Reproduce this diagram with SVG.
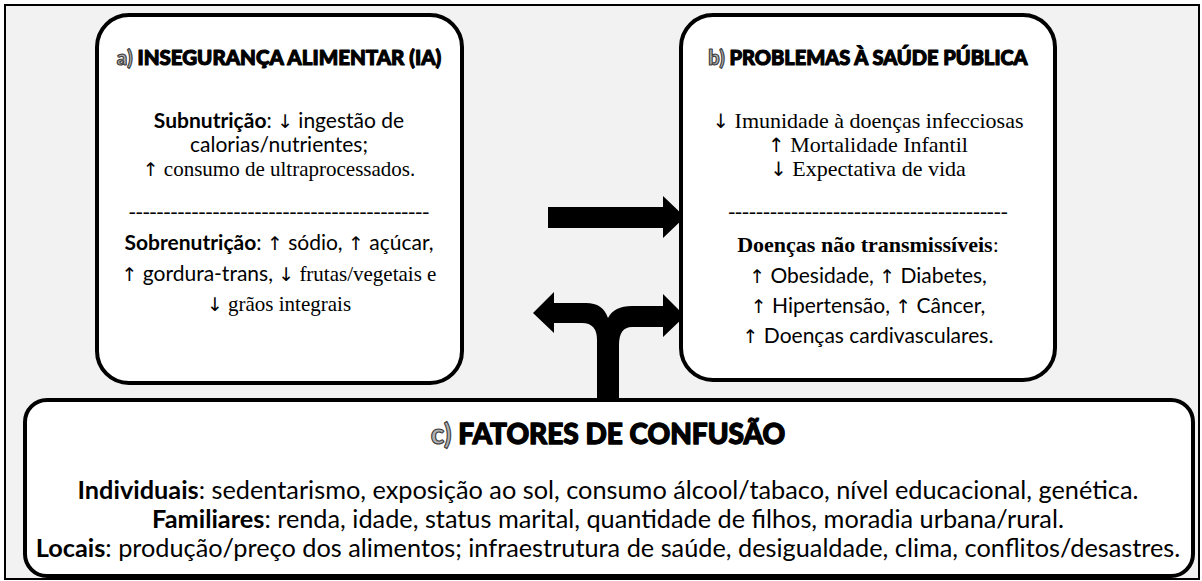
<svg xmlns="http://www.w3.org/2000/svg" width="1202" height="581" viewBox="0 0 1202 581">
<style>
.frame{fill:#f2f2f2;stroke:#000;stroke-width:2}
.box{fill:#fff;stroke:#000;stroke-width:4}
.ttl{font-family:Lato,"Liberation Sans",sans-serif;font-weight:900;fill:#000;stroke:#000;stroke-width:1.1;stroke-linejoin:round;text-anchor:middle}
.t1{font-size:20.5px}
.t2{font-size:20px}
.t3{font-size:28px;stroke-width:1.3}
.lt{fill:#b0b0b0;stroke:#3a3a3a;stroke-width:1.1}
.cal{font-family:Lato,"Liberation Sans",sans-serif;font-size:21px;fill:#000}
.tim{font-family:"Liberation Serif","DejaVu Serif",serif;font-size:21px;fill:#000}
.tb{font-size:22px}
.cc{font-size:25.3px}
.b{font-weight:bold}
.ar{font-family:"DejaVu Sans",sans-serif;font-weight:normal;font-size:0.9em}
text{text-anchor:middle}
.arrow{fill:#000;stroke:none}
</style>
<rect x="0" y="0" width="1202" height="581" fill="#fff"/>
<rect class="frame" x="5" y="5" width="1194" height="574"/>
<g id="connectors">
<path class="arrow" d="M548 207 L663 207 L663 196 L685 217 L663 238 L663 228 L548 228 Z"/>
<path class="arrow" d="M597 402 L597 340 Q597 323 582 323 L554 323 L554 333 L533 313 L554 292 L554 303 L586 303 Q603 303 608 318 Q614 306 632 306 L663 306 L663 294 L685 316 L663 337 L663 327 L632 327 Q619 327 619 345 L619 402 Z"/>
</g>
<g id="node-a">
<rect class="box" x="97" y="15" width="365" height="368" rx="32"/>
<text class="ttl t1" x="279" y="65"><tspan class="lt">a)</tspan> INSEGURANÇA ALIMENTAR (IA)</text>
<text class="cal" x="279" y="128"><tspan class="b">Subnutrição</tspan>: <tspan class="ar">↓</tspan> ingestão de</text>
<text class="cal" x="279" y="152">calorias/nutrientes;</text>
<text class="tim" x="279" y="176"><tspan class="ar">↑</tspan> consumo de ultraprocessados.</text>
<text class="tim" x="279" y="218">-------------------------------------------</text>
<text class="cal" x="279" y="250"><tspan class="b">Sobrenutrição</tspan>: <tspan class="ar">↑</tspan> sódio, <tspan class="ar">↑</tspan> açúcar,</text>
<text x="279" y="281"><tspan class="cal"><tspan class="ar">↑</tspan> gordura-trans, </tspan><tspan class="tim"><tspan class="ar">↓</tspan> frutas/vegetais e</tspan></text>
<text class="tim" x="279" y="311"><tspan class="ar">↓</tspan> grãos integrais</text>
</g>
<g id="node-b">
<rect class="box" x="681" y="15" width="374" height="365" rx="32"/>
<text class="ttl t2" x="868" y="65"><tspan class="lt">b)</tspan> PROBLEMAS À SAÚDE PÚBLICA</text>
<text class="tim tb" x="868" y="128"><tspan class="ar">↓</tspan> Imunidade à doenças infecciosas</text>
<text class="tim tb" x="868" y="152"><tspan class="ar">↑</tspan> Mortalidade Infantil</text>
<text class="tim tb" x="868" y="176"><tspan class="ar">↓</tspan> Expectativa de vida</text>
<text class="tim" x="868" y="218">----------------------------------------</text>
<text class="tim tb" x="868" y="252"><tspan class="b">Doenças não transmissíveis</tspan>:</text>
<text class="cal" x="868" y="283"><tspan class="ar">↑</tspan> Obesidade, <tspan class="ar">↑</tspan> Diabetes,</text>
<text class="cal" x="868" y="313"><tspan class="ar">↑</tspan> Hipertensão, <tspan class="ar">↑</tspan> Câncer,</text>
<text class="cal" x="868" y="343"><tspan class="ar">↑</tspan> Doenças cardivasculares.</text>
</g>
<g id="node-c">
<rect class="box" x="25" y="400" width="1168" height="176" rx="22"/>
<text class="ttl t3" x="608" y="444"><tspan class="lt">c)</tspan> FATORES DE CONFUSÃO</text>
<text class="cal cc" x="608" y="499"><tspan class="b">Individuais</tspan>: sedentarismo, exposição ao sol, consumo álcool/tabaco, nível educacional, genética.</text>
<text class="cal cc" x="608" y="528"><tspan class="b">Familiares</tspan>: renda, idade, status marital, quantidade de filhos, moradia urbana/rural.</text>
<text class="cal cc" x="608" y="557"><tspan class="b">Locais</tspan>: produção/preço dos alimentos; infraestrutura de saúde, desigualdade, clima, conflitos/desastres.</text>
</g>
</svg>
